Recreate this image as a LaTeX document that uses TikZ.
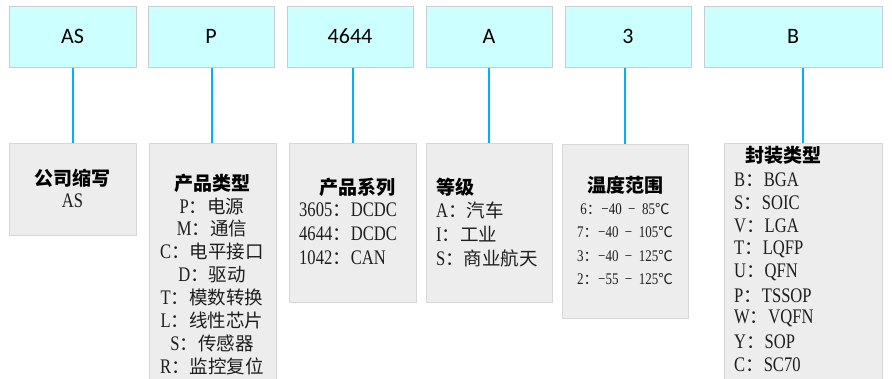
\documentclass[tikz,border=0pt]{standalone}
\usepackage{fontspec}
\setmainfont{Liberation Serif}
\newfontfamily\cjk{Noto Sans CJK SC}
\newfontfamily\lat[FakeStretch=0.8,Scale=1.12]{Liberation Serif}
\newfontfamily\carl{Carlito}
\newcommand\kv[2]{{\lat #1}{\cjk ：}#2}
\newcommand\degc{{\cjk ℃}}
\definecolor{topfill}{RGB}{204,255,255}
\definecolor{topdraw}{RGB}{200,205,205}
\definecolor{botfill}{RGB}{237,237,237}
\definecolor{botdraw}{RGB}{215,215,215}
\definecolor{wire}{RGB}{0,176,240}
\definecolor{ink}{RGB}{30,30,30}
\tikzset{
  topbox/.style={draw=topdraw,fill=topfill,line width=1pt,inner sep=0,font=\carl\fontsize{22}{26}\selectfont},
  botbox/.style={draw=botdraw,fill=botfill,line width=1pt},
  ttl/.style={inner sep=0,text=black,font=\cjk\bfseries\fontsize{19}{22}\selectfont},
  itm/.style={inner sep=0,text=ink,font=\cjk\fontsize{18.5}{22}\selectfont},
  tmp/.style={inner sep=0,text=ink,font=\cjk\fontsize{14.5}{18}\selectfont},
  link/.style={draw=wire,line width=2pt}
}
\begin{document}
\begin{tikzpicture}[x=1pt,y=-1pt]
\clip (0,0) rectangle (892,378);
\fill[white] (0,0) rectangle (892,378);
% top boxes
\node[topbox,minimum width=127,minimum height=61] (t1) at (72.5,36.5) {AS};
\node[topbox,minimum width=126,minimum height=61] (t2) at (211,36.5) {P};
\node[topbox,minimum width=126,minimum height=61] (t3) at (350,36.5) {4644};
\node[topbox,minimum width=126,minimum height=61] (t4) at (489,36.5) {A};
\node[topbox,minimum width=126,minimum height=61] (t5) at (628,36.5) {3};
\node[topbox,minimum width=178,minimum height=61] (t6) at (793,36.5) {B};
% bottom boxes
\path[botbox] (9,143) rectangle (136,235) node[pos=.5,inner sep=0] (b1) {};
\path[botbox] (149,143) rectangle (276,395) node[pos=.5,inner sep=0] (b2) {};
\path[botbox] (289,143) rectangle (416,302) node[pos=.5,inner sep=0] (b3) {};
\path[botbox] (426,143) rectangle (552,302) node[pos=.5,inner sep=0] (b4) {};
\path[botbox] (562,144) rectangle (688,318) node[pos=.5,inner sep=0] (b5) {};
\path[botbox] (724,143) rectangle (882,395) node[pos=.5,inner sep=0] (b6) {};
\coordinate (n1) at (72.5,143);
\coordinate (n2) at (212,143);
\coordinate (n3) at (352.5,143);
\coordinate (n4) at (489,143);
\coordinate (n5) at (625,144);
\coordinate (n6) at (803,143);
\foreach \i in {1,...,6}{\draw[link] (n\i |- t\i.south) -- (n\i);}
% box 1
\node[ttl] (h1) at (72.5,178) {公司缩写};
\node[itm] (i1) at (72.5,201) {\lat AS};
% box 2
\node[ttl] (h2) at (212,183) {产品类型};
\foreach \t [count=\i from 0] in {\kv{P}{电源},\kv{M}{通信},\kv{C}{电平接口},\kv{D}{驱动},\kv{T}{模数转换},\kv{L}{线性芯片},\kv{S}{传感器},\kv{R}{监控复位}}
  \node[itm] (i2-\i) at (212,206+22.85*\i) {\t};
% box 3
\node[ttl] (h3) at (357,187) {产品系列};
\foreach \t [count=\i from 0] in {\kv{3605}{\lat DCDC},\kv{4644}{\lat DCDC},\kv{1042}{\lat CAN}}
  \node[itm,anchor=west] (i3-\i) at (299,210+23.8*\i) {\t};
% box 4
\node[ttl,anchor=west] (h4) at (436,187) {等级};
\foreach \t [count=\i from 0] in {\kv{A}{汽车},\kv{I}{工业},\kv{S}{商业航天}}
  \node[itm,anchor=west] (i4-\i) at (436,210.5+23.8*\i) {\t};
% box 5
\node[ttl] (h5) at (625,185) {温度范围};
\foreach \t [count=\i from 0] in {{\kv{6}{{\lat −40\ \ −\ \ 85}}\degc},{\kv{7}{{\lat −40\ \ −\ \ 105}}\degc},{\kv{3}{{\lat −40\ \ −\ \ 125}}\degc},{\kv{2}{{\lat −55\ \ −\ \ 125}}\degc}}
  \node[tmp] (i5-\i) at (625,209+23.3*\i) {\t};
% box 6
\node[ttl] (h6) at (783,155) {封装类型};
\foreach \t [count=\i from 0] in {\kv{B}{\lat BGA},\kv{S}{\lat SOIC},\kv{V}{\lat LGA},\kv{T}{\lat LQFP},\kv{U}{\lat QFN},\kv{P}{\lat TSSOP},\kv{W}{\lat VQFN},\kv{Y}{\lat SOP},\kv{C}{\lat SC70}}
  \node[itm,anchor=west] (i6-\i) at (734,180+23.1*\i) {\t};
\end{tikzpicture}
\end{document}
